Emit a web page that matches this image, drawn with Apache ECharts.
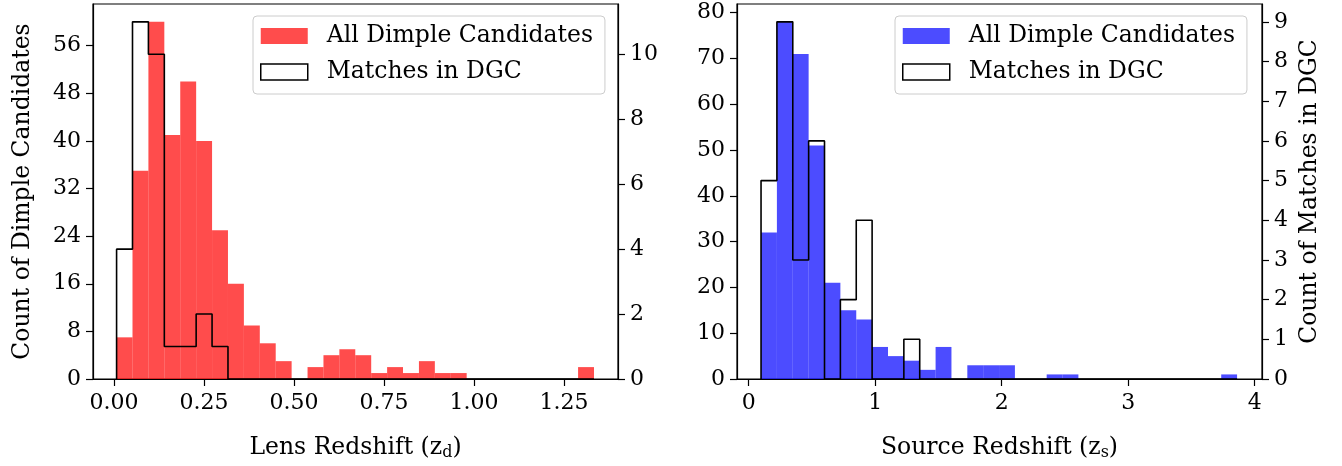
<!DOCTYPE html>
<html>
<head>
<meta charset="utf-8">
<script src="https://cdn.jsdelivr.net/npm/echarts@6/dist/echarts.min.js"></script>
<style>
html, body { margin: 0; padding: 0; background: #fff; }
#chart { width: 1342px; height: 466px; }
</style>
</head>
<body>
<div id="chart"></div>
<script>
// histogram counts, 30 bins each
const lensCounts = [7, 35, 60, 41, 50, 40, 25, 16, 9, 6, 3, 0, 2, 4, 5, 4, 1, 2, 1, 3, 1, 1, 0, 0, 0, 0, 0, 0, 0, 2];
const lensMatches = [4, 11, 10, 1, 1, 2, 1, 0, 0, 0, 0, 0, 0, 0, 0, 0, 0, 0, 0, 0, 0, 0, 0, 0, 0, 0, 0, 0, 0, 0];
const srcCounts = [32, 78, 71, 51, 21, 15, 13, 7, 5, 4, 2, 7, 0, 3, 3, 3, 0, 0, 1, 1, 0, 0, 0, 0, 0, 0, 0, 0, 0, 1];
const srcMatches = [5, 9, 3, 6, 0, 2, 4, 0, 0, 1, 0, 0, 0, 0, 0, 0, 0, 0, 0, 0, 0, 0, 0, 0, 0, 0, 0, 0, 0, 0];

// bin ranges (first and last edge)
const lensRange = [0.0075, 1.3333];
const srcRange = [0.098, 3.861];

// tick labels
const lensTicks = [0, 0.25, 0.5, 0.75, 1, 1.25];
const srcTicks = [0, 1, 2, 3, 4];
const lensCountTicks = [0, 8, 16, 24, 32, 40, 48, 56];
const lensMatchTicks = [0, 2, 4, 6, 8, 10];
const srcCountTicks = [0, 10, 20, 30, 40, 50, 60, 70, 80];
const srcMatchTicks = [0, 1, 2, 3, 4, 5, 6, 7, 8, 9];

const FONT = 'DejaVu Serif';
const tickText = { fontFamily: FONT, fontSize: 22, color: '#000' };
const nameText = { fontFamily: FONT, fontSize: 23.5, color: '#000' };

function binEdges(range, n) {
    const edges = [];
    for (let i = 0; i <= n; i++) edges.push(range[0] + (range[1] - range[0]) * i / n);
    return edges;
}

function barData(range, counts) {
    const e = binEdges(range, counts.length);
    return counts.map((c, i) => [e[i], e[i + 1], c]);
}

// outline points for a step histogram
function stepData(range, counts) {
    const e = binEdges(range, counts.length);
    const pts = [[e[0], 0]];
    counts.forEach((c, i) => {
        pts.push([e[i], c]);
        pts.push([e[i + 1], c]);
    });
    pts.push([e[counts.length], 0]);
    return pts;
}

function renderBar(params, api) {
    const top = api.coord([api.value(0), api.value(2)]);
    const bot = api.coord([api.value(1), 0]);
    return {
        type: 'rect',
        shape: { x: top[0], y: top[1], width: bot[0] - top[0], height: bot[1] - top[1] },
        style: api.style()
    };
}

function xAxisOf(gridIndex, min, max, ticks, name, sub, fmt) {
    return {
        type: 'value', gridIndex, min, max,
        name: name + ' (z{sub|' + sub + '})',
        nameLocation: 'middle',
        nameGap: 56,
        nameTextStyle: Object.assign({}, nameText, {
            rich: { sub: { fontFamily: FONT, fontSize: 16, color: '#000', verticalAlign: 'bottom', padding: [10, 0, 0, 0] } }
        }),
        axisLine: { show: true, lineStyle: { color: '#000', width: 1.2 } },
        axisTick: { show: true, length: 7, customValues: ticks, lineStyle: { color: '#000', width: 1.2 } },
        axisLabel: Object.assign({ margin: 13, customValues: ticks, formatter: fmt }, tickText),
        splitLine: { show: false }
    };
}

function yAxisOf(gridIndex, position, max, ticks, name, nameGap) {
    return {
        type: 'value', gridIndex, position, min: 0, max,
        name: name || '',
        nameLocation: 'middle',
        nameRotate: 90,
        nameGap: nameGap || 0,
        nameTextStyle: nameText,
        axisLine: { show: true, onZero: false, lineStyle: { color: '#000', width: 1.2 } },
        axisTick: { show: true, length: 7, customValues: ticks, lineStyle: { color: '#000', width: 1.2 } },
        axisLabel: Object.assign({ margin: 12, customValues: ticks }, tickText),
        splitLine: { show: false }
    };
}

function legendOf(left, allName, matchName, color) {
    return {
        left, top: 16,
        orient: 'vertical',
        itemWidth: 47, itemHeight: 16,
        itemGap: 12,
        padding: [8, 12, 10, 7],
        backgroundColor: 'rgba(255,255,255,0.8)',
        borderColor: '#cccccc', borderWidth: 1, borderRadius: 4,
        selectedMode: false,
        textStyle: Object.assign({ lineHeight: 24, padding: [0, 0, 0, 14] }, nameText),
        formatter: n => n === allName ? 'All Dimple Candidates' : 'Matches in DGC',
        data: [
            { name: allName, icon: 'rect', itemStyle: { color } },
            { name: matchName, icon: 'rect', itemStyle: { color: '#fff', borderColor: '#000', borderWidth: 1.5 } }
        ]
    };
}

function getOption() {
    return {
        animation: false,
        backgroundColor: '#fff',
        grid: [
            { left: 93, top: 4, width: 525, height: 380, show: true, borderColor: '#000', borderWidth: 1.2, backgroundColor: 'transparent' },
            { left: 737, top: 4, width: 525, height: 380, show: true, borderColor: '#000', borderWidth: 1.2, backgroundColor: 'transparent' }
        ],
        legend: [
            legendOf(253, 'lensAll', 'lensMatch', 'rgba(255,0,0,0.7)'),
            legendOf(895, 'srcAll', 'srcMatch', 'rgba(0,0,255,0.7)')
        ],
        xAxis: [
            xAxisOf(0, -0.058, 1.40, lensTicks, 'Lens Redshift', 'd', v => v.toFixed(2)),
            xAxisOf(1, -0.092, 4.058, srcTicks, 'Source Redshift', 's', v => String(v))
        ],
        yAxis: [
            yAxisOf(0, 'left', 63, lensCountTicks, 'Count of Dimple Candidates', 58),
            yAxisOf(0, 'right', 11.55, lensMatchTicks),
            yAxisOf(1, 'left', 81.9, srcCountTicks),
            yAxisOf(1, 'right', 9.45, srcMatchTicks, 'Count of Matches in DGC', 36)
        ],
        series: [
            {
                name: 'lensAll', type: 'custom', xAxisIndex: 0, yAxisIndex: 0,
                renderItem: renderBar, encode: { x: [0, 1], y: 2 },
                itemStyle: { color: 'rgba(255,0,0,0.7)' },
                data: barData(lensRange, lensCounts)
            },
            {
                name: 'lensMatch', type: 'line', xAxisIndex: 0, yAxisIndex: 1,
                showSymbol: false, symbol: 'none', z: 5,
                lineStyle: { color: '#000', width: 1.6 }, itemStyle: { color: '#000' },
                data: stepData(lensRange, lensMatches)
            },
            {
                name: 'srcAll', type: 'custom', xAxisIndex: 1, yAxisIndex: 2,
                renderItem: renderBar, encode: { x: [0, 1], y: 2 },
                itemStyle: { color: 'rgba(0,0,255,0.7)' },
                data: barData(srcRange, srcCounts)
            },
            {
                name: 'srcMatch', type: 'line', xAxisIndex: 1, yAxisIndex: 3,
                showSymbol: false, symbol: 'none', z: 5,
                lineStyle: { color: '#000', width: 1.6 }, itemStyle: { color: '#000' },
                data: stepData(srcRange, srcMatches)
            }
        ]
    };
}

const chart = echarts.init(document.getElementById('chart'));
chart.setOption(getOption());
</script>
</body>
</html>
